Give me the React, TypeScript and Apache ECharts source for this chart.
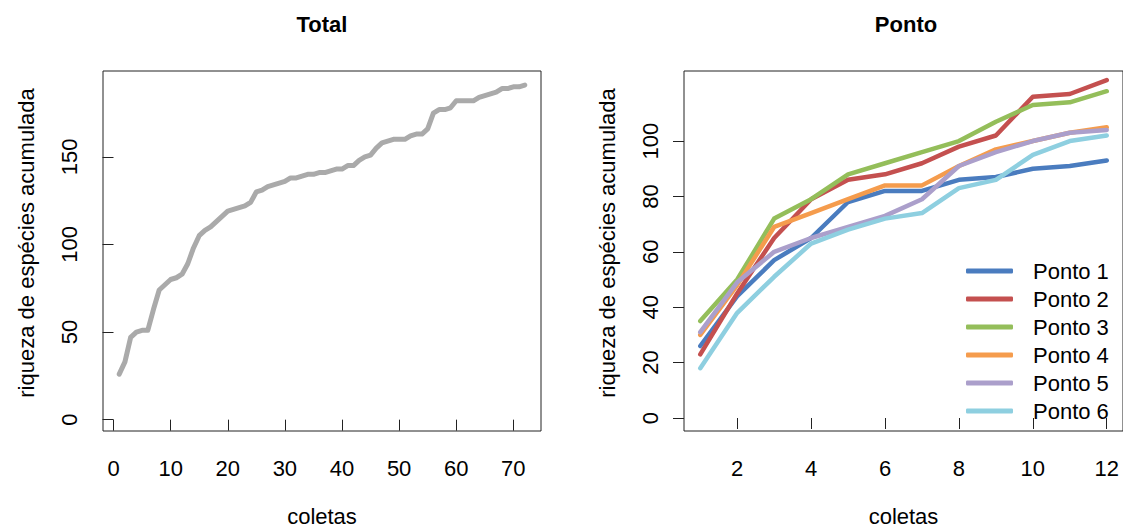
import React, { useEffect, useRef } from "react";
import * as echarts from "echarts";

// ---- Data ----
const totalRiqueza = [
  26, 33, 47, 50, 51, 51, 63, 74, 77, 80, 81, 83, 89, 98, 105, 108, 110, 113, 116, 119,
  120, 121, 122, 124, 130, 131, 133, 134, 135, 136, 138, 138, 139, 140, 140, 141, 141, 142,
  143, 143, 145, 145, 148, 150, 151, 155, 158, 159, 160, 160, 160, 162, 163, 163, 166, 175,
  177, 177, 178, 182, 182, 182, 182, 184, 185, 186, 187, 189, 189, 190, 190, 191,
];

const pontoNames = ["Ponto 1", "Ponto 2", "Ponto 3", "Ponto 4", "Ponto 5", "Ponto 6"];
const ponto1 = [26, 44, 57, 65, 78, 82, 82, 86, 87, 90, 91, 93];
const ponto2 = [23, 45, 65, 79, 86, 88, 92, 98, 102, 116, 117, 122];
const ponto3 = [35, 50, 72, 79, 88, 92, 96, 100, 107, 113, 114, 118];
const ponto4 = [30, 48, 69, 74, 79, 84, 84, 91, 97, 100, 103, 105];
const ponto5 = [31, 49, 60, 65, 69, 73, 79, 91, 96, 100, 103, 104];
const ponto6 = [18, 38, 51, 63, 68, 72, 74, 83, 86, 95, 100, 102];
const pontoColors = ["#4a7cbf", "#c4504f", "#94be5a", "#f59c4d", "#ab9fcb", "#8ecfe0"];

const leftXTicks = [0, 10, 20, 30, 40, 50, 60, 70];
const leftYTicks = [0, 50, 100, 150];
const rightXTicks = [2, 4, 6, 8, 10, 12];
const rightYTicks = [0, 20, 40, 60, 80, 100];

const FONT = "Liberation Sans, Arial, Helvetica, sans-serif";

export default function App() {
  const ref = useRef<HTMLDivElement>(null);

  useEffect(() => {
    if (!ref.current) return;
    const chart = echarts.init(ref.current, undefined, { renderer: "svg" });
    const pontos = [ponto1, ponto2, ponto3, ponto4, ponto5, ponto6];

    const axisCommon = {
      type: "value" as const,
      axisLine: { show: false },
      splitLine: { show: false },
      axisTick: { show: true, inside: false, length: 11, lineStyle: { color: "#222", width: 1 } },
    };
    const labelStyle = { color: "#000", fontSize: 22, fontFamily: FONT };
    const nameStyle = { color: "#000", fontSize: 22, fontFamily: FONT };
    const yNameStyle = { ...nameStyle, padding: [0, 0, 0, 16] };

    const option: any = {
      animation: false,
      backgroundColor: "#fff",
      title: [
        {
          text: "Total",
          left: 322,
          top: 13,
          padding: 0,
          textAlign: "center",
          textStyle: { fontSize: 22, fontWeight: "bold", color: "#000", fontFamily: FONT },
        },
        {
          text: "Ponto",
          left: 906,
          top: 13,
          padding: 0,
          textAlign: "center",
          textStyle: { fontSize: 22, fontWeight: "bold", color: "#000", fontFamily: FONT },
        },
      ],
      grid: [
        { left: 103, top: 71, width: 438, height: 368, show: true, borderColor: "#222", borderWidth: 1, backgroundColor: "transparent" },
        { left: 684, top: 71, width: 447, height: 368, show: true, borderColor: "#222", borderWidth: 1, backgroundColor: "transparent" },
      ],
      xAxis: [
        {
          ...axisCommon,
          gridIndex: 0,
          min: -1.84,
          max: 74.84,
          name: "coletas",
          nameLocation: "middle",
          nameGap: 74,
          nameTextStyle: nameStyle,
          axisTick: { ...axisCommon.axisTick, customValues: leftXTicks },
          axisLabel: { ...labelStyle, margin: 26, customValues: leftXTicks },
        },
        {
          ...axisCommon,
          gridIndex: 1,
          min: 0.56,
          max: 12.44,
          name: "coletas",
          nameLocation: "middle",
          nameGap: 74,
          nameTextStyle: nameStyle,
          axisTick: { ...axisCommon.axisTick, customValues: rightXTicks },
          axisLabel: { ...labelStyle, margin: 26, customValues: rightXTicks },
        },
      ],
      yAxis: [
        {
          ...axisCommon,
          gridIndex: 0,
          min: -6.47,
          max: 199,
          name: "riqueza de espécies acumulada",
          nameLocation: "middle",
          nameRotate: 90,
          nameGap: 66,
          nameTextStyle: yNameStyle,
          axisTick: { ...axisCommon.axisTick, customValues: leftYTicks },
          axisLabel: { ...labelStyle, margin: 23, rotate: 90, customValues: leftYTicks },
        },
        {
          ...axisCommon,
          gridIndex: 1,
          min: -4.69,
          max: 125.3,
          name: "riqueza de espécies acumulada",
          nameLocation: "middle",
          nameRotate: 90,
          nameGap: 66,
          nameTextStyle: yNameStyle,
          axisTick: { ...axisCommon.axisTick, customValues: rightYTicks },
          axisLabel: { ...labelStyle, margin: 23, rotate: 90, customValues: rightYTicks },
        },
      ],
      legend: {
        orient: "vertical",
        left: 966,
        top: 259,
        padding: 0,
        itemWidth: 47,
        itemHeight: 5,
        itemGap: 4,
        icon: "roundRect",
        data: pontoNames,
        textStyle: { fontSize: 22, lineHeight: 24, color: "#000", fontFamily: FONT, padding: [0, 0, 0, 15] },
      },
      series: [
        {
          type: "line",
          xAxisIndex: 0,
          yAxisIndex: 0,
          symbol: "none",
          silent: true,
          data: totalRiqueza.map((v, i) => [i + 1, v]),
          lineStyle: { color: "#aaaaaa", width: 5, cap: "round", join: "round" },
          itemStyle: { color: "#aaaaaa" },
        },
        ...pontos.map((arr, k) => ({
          type: "line",
          name: pontoNames[k],
          xAxisIndex: 1,
          yAxisIndex: 1,
          symbol: "none",
          silent: true,
          data: arr.map((v, i) => [i + 1, v]),
          lineStyle: { color: pontoColors[k], width: 4.5, cap: "round", join: "round" },
          itemStyle: { color: pontoColors[k] },
        })),
      ],
    };

    chart.setOption(option);
    return () => chart.dispose();
  }, []);

  return (
    <div
      ref={ref}
      style={{ position: "fixed", left: 0, top: 0, width: 1123, height: 532, background: "#fff" }}
    />
  );
}
